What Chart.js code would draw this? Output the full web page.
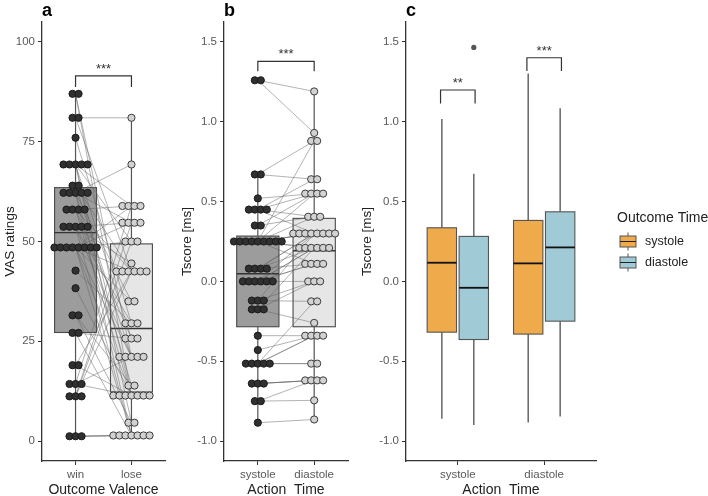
<!DOCTYPE html>
<html>
<head>
<meta charset="utf-8">
<script src="https://cdn.jsdelivr.net/npm/chart.js@4.4.0/dist/chart.umd.min.js"></script>
<style>
html, body { margin: 0; padding: 0; background: #fff; }
#wrap { position: relative; width: 708px; height: 496px; }
canvas { position: absolute; top: 0; }
</style>
</head>
<body>
<div id="wrap">
  <canvas id="ca" width="170" height="496" style="left:0px"></canvas>
  <canvas id="cb" width="181" height="496" style="left:172px"></canvas>
  <canvas id="cc" width="355" height="496" style="left:353px"></canvas>
</div>
<script>
// ---- panel a: VAS ratings, paired win / lose ----
var valenceLabels = ['win', 'lose'];
var vasWin = [87, 87, 81, 81, 76, 69.3, 69.3, 69.3, 69.3, 69.3, 64, 64, 62.2, 62.2, 62.2, 62.2, 62.2,
  58, 58, 58, 58, 53.7, 53.7, 53.7, 53.7, 53.7, 48.5, 48.5, 48.5, 48.5, 48.5, 48.5, 48.5, 48.5,
  42.7, 38.3, 31.5, 31.5, 27.1, 27.1, 19, 19, 14.3, 14.3, 14.3, 11.2, 11.2, 11.2, 1.2, 1.2, 1.2];
var vasLose = [21.1, 11.4, 81, 42.5, 29.5, 50, 25.7, 4.6, 58.9, 11.4, 42.5, 21.1, 69.3, 54.7, 35, 1.4, 13.9,
  58.9, 42.5, 25.7, 11.4, 54.7, 29.5, 21.1, 1.4, 44.5, 50, 58.9, 42.5, 35, 11.4, 21.1, 1.4, 54.7,
  29.5, 11.4, 4.6, 13.9, 25.7, 1.4, 11.4, 42.5, 21.1, 58.9, 11.4, 42.5, 50, 54.7, 1.4, 1.4, 1.4];
var vasLow = [1.2, 1.4];
var vasQ1 = [27.2, 12.3];
var vasMedian = [52.2, 28.2];
var vasQ3 = [63.5, 49.4];
var vasHigh = [87, 81];
var vasTicks = [0, 25, 50, 75, 100];

// ---- panel b: Tscore by action time, paired ----
var actionLabels = ['systole', 'diastole'];
var tsSys = [1.26, 1.26, 0.67, 0.67, 0.52, 0.45, 0.45, 0.45, 0.45, 0.35, 0.35,
  0.25, 0.25, 0.25, 0.25, 0.25, 0.25, 0.25, 0.25, 0.25, 0.08, 0.08, 0.08, 0.08,
  0, 0, 0, 0, 0, 0, -0.12, -0.12, -0.12, -0.175, -0.175, -0.175, -0.34, -0.43,
  -0.515, -0.515, -0.515, -0.515, -0.515, -0.64, -0.64, -0.64, -0.75, -0.75, -0.885];
var tsDia = [1.19, 0.93, 0.88, 0.64, 0.55, 0.405, 0.55, 0.3, 0.64, 0.405, 0.55,
  0.88, 0.55, 0.405, 0.3, 0.3, 0.3, 0.21, 0.21, 0.11, 0.3, 0.21, 0.11, 0.3,
  0.21, 0.11, 0, 0.3, 0.21, 0.11, 0, -0.125, 0.3, 0, -0.26, 0.21, -0.34, -0.34,
  -0.34, -0.34, -0.515, -0.515, -0.125, -0.62, -0.62, -0.62, -0.62, -0.745, -0.865];
var tsLow = [-0.885, -0.865];
var tsQ1 = [-0.284, -0.284];
var tsMedian = [0.048, 0.192];
var tsQ3 = [0.284, 0.395];
var tsHigh = [0.67, 1.19];
var tsTicks = [-1.0, -0.5, 0.0, 0.5, 1.0, 1.5];

// ---- panel c: Tscore by action time x outcome time ----
var outcomeLabels = ['systole', 'diastole'];
var outSysLow = [-0.861, -0.884];
var outSysQ1 = [-0.318, -0.33];
var outSysMedian = [0.117, 0.113];
var outSysQ3 = [0.336, 0.382];
var outSysHigh = [1.017, 1.303];
var outDiaLow = [-0.9, -0.846];
var outDiaQ1 = [-0.364, -0.249];
var outDiaMedian = [-0.04, 0.213];
var outDiaQ3 = [0.282, 0.436];
var outDiaHigh = [0.674, 1.084];
var outDiaOutliers = [[1.466], []];

// significance brackets
var sigA = [{ from: 1, to: 2, y: 91.5, tip: 88.7, text: '***' }];
var sigB = [{ from: 1, to: 2, y: 1.378, tip: 1.316, text: '***' }];
var sigC = [
  { from: 0.8, to: 1.2, y: 1.199, tip: 1.115, text: '**' },
  { from: 1.8, to: 2.2, y: 1.401, tip: 1.318, text: '***' }
];

var FONT = "'Liberation Sans', Arial, sans-serif";
Chart.defaults.font.family = FONT;

function dots(vals, cat, step) {
  var seen = {};
  return vals.map(function (v) {
    var n = vals.filter(function (w) { return w === v; }).length;
    var k = seen[v] || 0;
    seen[v] = k + 1;
    return { x: cat + (k - (n - 1) / 2) * step, y: v };
  });
}

function pairLines(a, b) {
  var out = [];
  for (var i = 0; i < a.length; i++) {
    out.push({ x: 1, y: a[i] }, { x: 2, y: b[i] }, { x: 1.5, y: null });
  }
  return out;
}

function boxPlugin(boxes) {
  return {
    id: 'boxes',
    beforeDatasetsDraw: function (chart) {
      var xs = chart.scales.x, ys = chart.scales.y, ctx = chart.ctx;
      ctx.save();
      boxes.forEach(function (b) {
        var xc = xs.getPixelForValue(b.x);
        var x0 = xs.getPixelForValue(b.x - b.hw), x1 = xs.getPixelForValue(b.x + b.hw);
        var yq1 = ys.getPixelForValue(b.q1), yq3 = ys.getPixelForValue(b.q3);
        ctx.strokeStyle = b.whisker;
        ctx.lineWidth = b.whiskerWidth;
        ctx.beginPath();
        ctx.moveTo(xc, ys.getPixelForValue(b.high)); ctx.lineTo(xc, yq3);
        ctx.moveTo(xc, yq1); ctx.lineTo(xc, ys.getPixelForValue(b.low));
        ctx.stroke();
        ctx.fillStyle = b.fill;
        ctx.fillRect(x0, yq3, x1 - x0, yq1 - yq3);
        ctx.strokeStyle = b.edge;
        ctx.lineWidth = 1.1;
        ctx.strokeRect(x0, yq3, x1 - x0, yq1 - yq3);
        var ym = ys.getPixelForValue(b.med);
        ctx.strokeStyle = b.medColor;
        ctx.lineWidth = b.medWidth;
        ctx.beginPath(); ctx.moveTo(x0, ym); ctx.lineTo(x1, ym); ctx.stroke();
      });
      ctx.restore();
    }
  };
}

function sigPlugin(sigs, letter) {
  return {
    id: 'sig',
    afterDatasetsDraw: function (chart) {
      var xs = chart.scales.x, ys = chart.scales.y, ctx = chart.ctx;
      ctx.save();
      ctx.strokeStyle = '#333';
      ctx.lineWidth = 1.2;
      sigs.forEach(function (s) {
        var x1 = xs.getPixelForValue(s.from), x2 = xs.getPixelForValue(s.to);
        var y = ys.getPixelForValue(s.y), yt = ys.getPixelForValue(s.tip);
        ctx.beginPath();
        ctx.moveTo(x1, yt); ctx.lineTo(x1, y); ctx.lineTo(x2, y); ctx.lineTo(x2, yt);
        ctx.stroke();
        ctx.fillStyle = '#333';
        ctx.font = '13px ' + FONT;
        ctx.textAlign = 'center';
        ctx.textBaseline = 'alphabetic';
        ctx.fillText(s.text, (x1 + x2) / 2, y - 3);
      });
      ctx.fillStyle = '#000';
      ctx.font = 'bold 18px ' + FONT;
      ctx.textAlign = 'left';
      ctx.fillText(letter, chart.chartArea.left, 16);
      ctx.restore();
    }
  };
}

function scales(o) {
  return {
    x: {
      type: 'linear', min: 0.4, max: 2.6,
      afterBuildTicks: function (s) { s.ticks = [{ value: 1 }, { value: 2 }]; },
      afterFit: function (s) { s.height = 35; },
      ticks: {
        color: '#5a5a5a', font: { size: 11.5 }, padding: 3, autoSkip: false, maxRotation: 0,
        callback: function (v) { return o.xLabels[Math.round(v) - 1]; }
      },
      grid: { display: true, drawOnChartArea: false, drawTicks: true, tickLength: 4, color: '#333' },
      border: { display: true, color: '#333', width: 1.3 },
      title: { display: true, text: o.xTitle, color: '#222', font: { size: 14, lineHeight: 1 }, padding: { top: 0, bottom: -1 } }
    },
    y: {
      type: 'linear', min: o.yMin, max: o.yMax,
      afterBuildTicks: function (s) { s.ticks = o.yTicks.map(function (v) { return { value: v }; }); },
      afterFit: function (s) { s.width = o.yWidth; },
      ticks: {
        color: '#5a5a5a', font: { size: 11.5 }, padding: 3,
        callback: function (v) { return o.fmt(v); }
      },
      grid: { display: true, drawOnChartArea: false, drawTicks: true, tickLength: 4, color: '#333' },
      border: { display: true, color: '#333', width: 1.3 },
      title: { display: true, text: o.yTitle, color: '#222', font: { size: 13.5 }, padding: { top: o.titlePad, bottom: 0 } }
    }
  };
}

var baseOpts = {
  responsive: false, animation: false, devicePixelRatio: 1,
  plugins: { legend: { display: false }, tooltip: { enabled: false } }
};

function opts(extra) {
  return Object.assign({}, baseOpts, extra);
}

var darkBox = '#9c9c9c', lightBox = '#e6e6e6';
var pairColor = 'rgba(95,95,95,0.6)';

// panel a
new Chart(document.getElementById('ca'), {
  type: 'scatter',
  data: {
    datasets: [
      { data: pairLines(vasWin, vasLose), showLine: true, spanGaps: false, pointRadius: 0,
        borderColor: pairColor, borderWidth: 0.8, order: 3 },
      { data: dots(vasWin, 1, 0.108), pointRadius: 3.6, backgroundColor: '#303030', borderColor: '#1a1a1a', borderWidth: 1, order: 1 },
      { data: dots(vasLose, 2, 0.108), pointRadius: 3.6, backgroundColor: '#d2d2d2', borderColor: '#3a3a3a', borderWidth: 1, order: 2 }
    ]
  },
  options: opts({
    layout: { padding: { left: 0, right: 3, top: 22, bottom: 0 } },
    scales: scales({ xLabels: valenceLabels, xTitle: 'Outcome Valence', yMin: -5, yMax: 105, yTicks: vasTicks,
      yWidth: 42, yTitle: 'VAS ratings', titlePad: 2, fmt: function (v) { return String(v); } })
  }),
  plugins: [
    boxPlugin([0, 1].map(function (i) {
      return { x: i + 1, hw: 0.375, low: vasLow[i], q1: vasQ1[i], med: vasMedian[i], q3: vasQ3[i], high: vasHigh[i],
        fill: i === 0 ? darkBox : lightBox, edge: '#4a4a4a', medColor: '#333', medWidth: 1.3, whisker: '#555', whiskerWidth: 1.2 };
    })),
    sigPlugin(sigA, 'a')
  ]
});

// panel b
new Chart(document.getElementById('cb'), {
  type: 'scatter',
  data: {
    datasets: [
      { data: pairLines(tsSys, tsDia), showLine: true, spanGaps: false, pointRadius: 0,
        borderColor: pairColor, borderWidth: 0.8, order: 3 },
      { data: dots(tsSys, 1, 0.106), pointRadius: 3.6, backgroundColor: '#303030', borderColor: '#1a1a1a', borderWidth: 1, order: 1 },
      { data: dots(tsDia, 2, 0.106), pointRadius: 3.6, backgroundColor: '#d2d2d2', borderColor: '#3a3a3a', borderWidth: 1, order: 2 }
    ]
  },
  options: opts({
    layout: { padding: { left: 0, right: 4.7, top: 22, bottom: 0 } },
    scales: scales({ xLabels: actionLabels, xTitle: 'Action  Time', yMin: -1.125, yMax: 1.625, yTicks: tsTicks,
      yWidth: 52, yTitle: 'Tscore [ms]', titlePad: 7, fmt: function (v) { return v.toFixed(1); } })
  }),
  plugins: [
    boxPlugin([0, 1].map(function (i) {
      return { x: i + 1, hw: 0.375, low: tsLow[i], q1: tsQ1[i], med: tsMedian[i], q3: tsQ3[i], high: tsHigh[i],
        fill: i === 0 ? darkBox : lightBox, edge: '#4a4a4a', medColor: '#333', medWidth: 1.3, whisker: '#555', whiskerWidth: 1.2 };
    })),
    sigPlugin(sigB, 'b')
  ]
});

// panel c
var orange = '#eeaa4b', blue = '#a0cbd6';
var cBoxes = [];
[0, 1].forEach(function (i) {
  cBoxes.push({ x: i + 1 - 0.185, hw: 0.17, low: outSysLow[i], q1: outSysQ1[i], med: outSysMedian[i], q3: outSysQ3[i], high: outSysHigh[i],
    fill: orange, edge: '#555', medColor: '#111', medWidth: 1.8, whisker: '#666', whiskerWidth: 1.5 });
  cBoxes.push({ x: i + 1 + 0.185, hw: 0.17, low: outDiaLow[i], q1: outDiaQ1[i], med: outDiaMedian[i], q3: outDiaQ3[i], high: outDiaHigh[i],
    fill: blue, edge: '#555', medColor: '#111', medWidth: 1.8, whisker: '#666', whiskerWidth: 1.5 });
});
var outlierPts = [];
outDiaOutliers.forEach(function (list, i) {
  list.forEach(function (v) { outlierPts.push({ x: i + 1 + 0.185, y: v }); });
});

var legendPlugin = {
  id: 'legendC',
  afterDraw: function (chart) {
    var ctx = chart.ctx;
    ctx.save();
    ctx.fillStyle = '#222';
    ctx.font = '14px ' + FONT;
    ctx.textAlign = 'left';
    ctx.textBaseline = 'middle';
    ctx.fillText('Outcome Time', 264, 218);
    var fills = [orange, blue];
    outcomeLabels.forEach(function (lab, i) {
      var cy = 241.5 + i * 21;
      ctx.strokeStyle = '#555';
      ctx.lineWidth = 1;
      ctx.beginPath();
      ctx.moveTo(275, cy - 9); ctx.lineTo(275, cy + 9);
      ctx.stroke();
      ctx.fillStyle = fills[i];
      ctx.fillRect(267, cy - 5.5, 16, 11);
      ctx.strokeRect(267, cy - 5.5, 16, 11);
      ctx.strokeStyle = '#222';
      ctx.beginPath(); ctx.moveTo(267, cy); ctx.lineTo(283, cy); ctx.stroke();
      ctx.fillStyle = '#222';
      ctx.font = '12.5px ' + FONT;
      ctx.fillText(lab, 292, cy);
    });
    ctx.restore();
  }
};

new Chart(document.getElementById('cc'), {
  type: 'scatter',
  data: {
    datasets: [
      { data: outlierPts, pointRadius: 2.6, backgroundColor: '#555', borderColor: '#555', borderWidth: 0 }
    ]
  },
  options: opts({
    layout: { padding: { left: 0, right: 112, top: 22, bottom: 0 } },
    scales: scales({ xLabels: actionLabels, xTitle: 'Action  Time', yMin: -1.125, yMax: 1.625, yTicks: tsTicks,
      yWidth: 53, yTitle: 'Tscore [ms]', titlePad: 6, fmt: function (v) { return v.toFixed(1); } })
  }),
  plugins: [boxPlugin(cBoxes), sigPlugin(sigC, 'c'), legendPlugin]
});
</script>
</body>
</html>
